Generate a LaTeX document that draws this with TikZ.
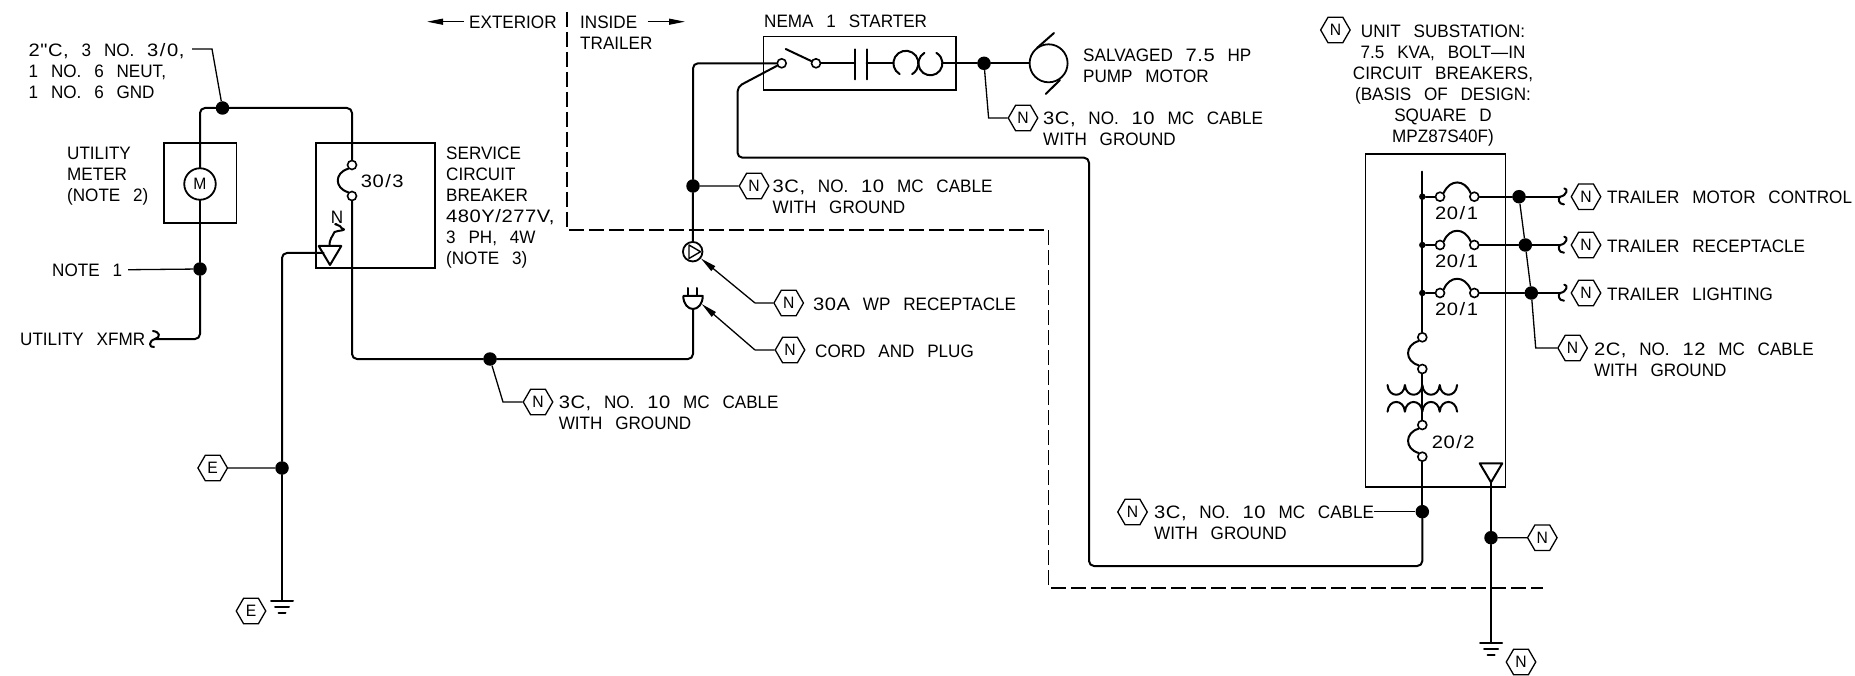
\documentclass[tikz,border=0pt]{standalone}
\usepackage{fontspec}
\setmainfont[FakeStretch=0.95,WordSpace=2.7]{Liberation Sans}
\newfontfamily\numfont[FakeStretch=1.12,LetterSpace=3,WordSpace=2.7]{Liberation Sans}
\usetikzlibrary{shapes.geometric,arrows.meta}
\newcommand{\lblfont}{\fontsize{18}{21}\selectfont}
\newcommand{\hexfont}{\fontsize{16.5}{17}\selectfont}
\newcommand{\slsh}{\kern1.5pt/\kern1.5pt}
\newcommand{\cabletxt}{{\numfont 3C,} NO. {\numfont 10} MC CABLE}
\tikzset{
  wire/.style={line width=2pt,line cap=round,line join=round},
  rwire/.style={wire,rounded corners=5pt},
  thin line/.style={line width=1.3pt},
  boxline/.style={line width=1.6pt},
  dash line/.style={line width=1.2pt,dash pattern=on 15pt off 5pt},
  lbl/.style={anchor=north west,inner sep=0pt,align=left,font=\lblfont,execute at begin node={\rule{0pt}{13pt}}},
  clbl/.style={anchor=north,inner sep=0pt,align=center,font=\lblfont,execute at begin node={\rule{0pt}{13pt}}},
  hex/.style={regular polygon,regular polygon sides=6,draw,line width=1.3pt,inner sep=0pt,minimum size=29.5pt,font=\hexfont},
  jdot/.style={circle,fill=black,draw=none,inner sep=0pt,minimum size=13.5pt},
  sdot/.style={circle,fill=black,draw=none,inner sep=0pt,minimum size=6.5pt},
  term/.style={circle,draw,fill=white,line width=1.6pt,inner sep=0pt,minimum size=9pt},
  circ/.style={circle,draw,line width=1.8pt,inner sep=0pt},
  larrow/.style={thin line,-{Triangle[length=16pt,width=6pt]}},
}
\newcommand{\brkr}[2]{\draw[wire] (#1.south west) .. controls +(-14,4) and +(-14,-4) .. (#2.north west);}
\newcommand{\arcbrk}[2]{\draw[wire] (#1.north east) .. controls +(6,-14) and +(-6,-14) .. (#2.north west);}
\newcommand{\hookbrk}[1]{\draw[wire] (#1) ++(4.3,-8.3) .. controls +(4,0) and +(7,-1) .. (#1) .. controls +(-2,1.5) and +(-6,0) .. ++(4,7.7);}
\newcommand{\hookxf}[1]{\draw[wire] (#1) ++(-2,-8) .. controls +(7,1) and +(6,-2) .. (#1) .. controls +(-7,2) and +(-5,1) .. ++(-1,8);}
\newcommand{\gnd}[1]{\draw[wire] (#1) ++(-11,0) -- ++(22,0) ++(-18,6) -- ++(14,0) ++(-10.5,6) -- ++(7,0);}
\newcommand{\tri}[1]{\draw[wire] (#1) ++(-11.3,-19) -- ++(22.6,0) -- (#1) -- cycle;}
\begin{document}
\begin{tikzpicture}[x=1pt,y=-1pt]
\useasboundingbox (0,0) rectangle (1855,676);
% ---- labels
\node[lbl] (lext) at (469,15.5) {EXTERIOR};
\coordinate (aext1) at (464,21.7); \coordinate (aext2) at (427,21.7);
\draw[larrow] (aext1) -- (aext2);
\node[lbl] (lins) at (580,15.5) {INSIDE\\TRAILER};
\coordinate (ains1) at (647.5,21.7); \coordinate (ains2) at (685,21.7);
\draw[larrow] (ains1) -- (ains2);
% ---- dashed boundary
\coordinate (b1) at (567,12); \coordinate (b2) at (567,230); \coordinate (b3) at (1048.6,230);
\coordinate (b4) at (1048.6,588); \coordinate (b5) at (1543,588);
\draw[dash line] (b1) -- (b2) -- (b3) -- (b4) -- (b5);
% ---- service side
\node[lbl] (lfeed) at (28.5,43) {{\numfont 2"C,} 3 NO. {\numfont 3\slsh 0,}\\1 NO. 6 NEUT,\\1 NO. 6 GND};
\node[jdot] (d1) at (222.5,108) {};
\coordinate (lf1) at (192,49); \coordinate (lf2) at (212,49);
\draw[thin line] (lf1) -- (lf2) -- (d1);
\draw[boxline] (164,143) rectangle (236.5,223);
\node[lbl] (lmeter) at (67,147) {UTILITY\\METER\\(NOTE 2)};
\node[circ,minimum size=31.5pt,font=\hexfont] (M) at (200,184) {M};
\node[jdot] (d2) at (200,269) {};
\node[lbl] (lnote) at (52,263) {NOTE 1};
\draw[thin line,shorten <=6pt] (lnote.east) -- (d2);
\node[lbl] (lxf) at (20,332) {UTILITY XFMR};
\coordinate (xf) at (155,339);
\draw[rwire] (M) |- (d1);
\draw[wire] (M) -- (d2);
\draw[rwire] (d2) |- (xf);
\hookxf{xf}
\draw[boxline] (316,143) rectangle (435,268);
\node[term] (cb1) at (352,165) {};
\node[term] (cb2) at (352,196) {};
\brkr{cb1}{cb2}
\draw[rwire] (d1) -| (cb1);
\node[lbl] (l303) at (360.7,174) {\numfont 30\slsh 3};
\node[lbl] (lserv) at (446,147) {SERVICE\\CIRCUIT\\BREAKER\\{\numfont 480Y/277V,}\\3 PH, 4W\\(NOTE 3)};
\node[inner sep=0pt,font=\lblfont] (nsm) at (337,217) {N};
\coordinate (t1) at (330,265);
\tri{t1}
\coordinate (sq1) at (329.5,246);
\draw[wire] (sq1) .. controls +(0,-8) and +(-2,5) .. ++(5,-14) .. controls +(4,-2) and +(7,3) .. ++(7,-4) .. controls +(0,-3) and +(-5,0) .. ++(-5,-4);
\node[jdot] (d6) at (282,468) {};
\coordinate (g1) at (282,601);
\coordinate (t1l) at (323.5,253);
\draw[rwire] (d6) |- (t1l);
\draw[wire] (d6) -- (g1);
\gnd{g1}
\node[hex] (hE1) at (212.7,468) {E};
\draw[thin line] (hE1) -- (d6);
\node[hex] (hE2) at (251,611) {E};
% ---- cable to plug
\node[jdot] (d3) at (490,359) {};
\coordinate (plugb) at (693,309);
\draw[rwire] (plugb) |- (d3);
\draw[rwire] (d3) -| (cb2);
\node[hex] (h3) at (538,402) {N};
\coordinate (l3) at (503,402);
\draw[thin line] (d3) -- (l3) -- (h3);
\node[lbl] (ltxt3) at (558.6,396) {\cabletxt\\WITH GROUND};
% ---- plug and receptacle
\node[circ,minimum size=19.5pt] (rec) at (692.7,251.7) {};
\coordinate (rt1) at (689,245); \coordinate (rt2) at (689,258.5); \coordinate (rt3) at (700.5,251.7);
\draw[line width=1.4pt,line join=round] (rt1) -- (rt2) -- (rt3) -- cycle;
\coordinate (pl) at (683.3,296); \coordinate (pr) at (702.7,296);
\draw[wire] (pl) -- (pr) .. controls +(0,8) and +(5,0) .. (plugb) .. controls +(-5,0) and +(0,8) .. (pl);
\coordinate (pa) at (688,288); \coordinate (pa2) at (688,296);
\coordinate (pb) at (697,288); \coordinate (pb2) at (697,296);
\draw[wire] (pa) -- (pa2) (pb) -- (pb2);
\node[hex] (h4) at (788.7,303) {N};
\coordinate (l4) at (755,303);
\draw[thin line] (h4) -- (l4);
\draw[larrow] (l4) -- (rec);
\node[lbl] (ltxt4) at (813,297) {{\numfont 30A} WP RECEPTACLE};
\node[hex] (h5) at (790,350) {N};
\coordinate (l5) at (755,350); \coordinate (plugtip) at (701.7,304);
\draw[thin line] (h5) -- (l5);
\draw[larrow] (l5) -- (plugtip);
\node[lbl] (ltxt5) at (815,344) {CORD AND PLUG};
% ---- starter
\node[lbl] (lnema) at (764,14) {NEMA 1 STARTER};
\draw[boxline] (763.5,36.5) rectangle (955.7,90);
\node[term] (st1) at (781.7,63.3) {};
\node[term] (st2) at (816,63.3) {};
\coordinate (bl) at (785.7,49);
\draw[wire] (bl) -- (st2);
\coordinate (cp1a) at (855,49.3); \coordinate (cp1b) at (855,79.3); \coordinate (cp1m) at (855,63.3);
\coordinate (cp2a) at (866.7,49.3); \coordinate (cp2b) at (866.7,79.3); \coordinate (cp2m) at (866.7,63.3);
\draw[wire] (st2) -- (cp1m) (cp1a) -- (cp1b) (cp2a) -- (cp2b);
\coordinate (ol1) at (893.4,63.3); \coordinate (ol2) at (942.4,63.3);
\draw[wire] (cp2m) -- (ol1);
\coordinate (ol3) at (899.65,74.1); \coordinate (ol4) at (924.4,52.9);
\draw[wire] (ol3) arc[start angle=240,end angle=-60,radius=12.5pt];
\draw[wire] (ol4) arc[start angle=120,end angle=420,radius=12pt];
\node[jdot] (d7) at (984,63.3) {};
\draw[wire] (ol2) -- (d7);
\node[circ,minimum size=38pt] (mot) at (1048.6,63.3) {};
\draw[wire] (d7) -- (mot);
\coordinate (mt1) at (1054,33); \coordinate (mt2) at (1037,48);
\coordinate (mt3) at (1045.7,94); \coordinate (mt4) at (1060,80);
\draw[wire] (mt1) -- (mt2) (mt3) -- (mt4);
\node[lbl] (lmot) at (1083,49) {SALVAGED {\numfont 7.5} HP\\PUMP MOTOR};
\node[hex] (h7) at (1023,118) {N};
\coordinate (l7) at (988.6,118);
\draw[thin line] (d7) -- (l7) -- (h7);
\node[lbl] (ltxt7) at (1043,112) {\cabletxt\\WITH GROUND};
% ---- feeder to starter
\node[jdot] (d4) at (693,186) {};
\draw[wire] (rec) -- (d4);
\draw[rwire] (d4) |- (st1);
\node[hex] (h8) at (754,186) {N};
\draw[thin line] (d4) -- (h8);
\node[lbl] (ltxt8) at (772.5,180) {\cabletxt\\WITH GROUND};
\node[jdot] (d5) at (1422.3,511.7) {};
\coordinate (c1) at (737.5,86.7); \coordinate (c2) at (1089,157.7); \coordinate (c3) at (1089,566);
\draw[rwire] (st1) -- (c1) |- (c2) -- (c3) -| (d5);
% ---- substation
\node[hex] (hS) at (1335.4,30) {N};
\node[clbl] (lsub) at (1443,25) {UNIT SUBSTATION:\\7.5 KVA, BOLT---IN\\CIRCUIT BREAKERS,\\(BASIS OF DESIGN:\\SQUARE D\\MPZ87S40F)};
\draw[boxline] (1365.6,154) rectangle (1505.5,486.7);
\coordinate (bus) at (1422.3,171.7);
\node[term] (tr1) at (1422.3,337.3) {};
\draw[wire] (bus) -- (tr1);
\node[term] (tr2) at (1422.3,369) {};
\brkr{tr1}{tr2}
\node[term] (tr3) at (1422.3,425) {};
\node[term] (tr4) at (1422.3,456.7) {};
\brkr{tr3}{tr4}
\draw[wire] (tr2) -- (tr3);
\draw[wire] (tr4) -- (d5);
\coordinate (tx1) at (1387.5,385); \coordinate (tx2) at (1387.5,411.7);
\draw[wire] (tx1) foreach \i in {1,...,4} { .. controls +(1,13) and +(-1,13) .. ++(17.4,0) };
\draw[wire] (tx2) foreach \i in {1,...,4} { .. controls +(1,-13) and +(-1,-13) .. ++(17.4,0) };
\node[lbl] (l202) at (1431.7,435) {\numfont 20\slsh 2};
\coordinate (t2) at (1491,482.3);
\tri{t2}
\node[jdot] (d8) at (1491,537.7) {};
\coordinate (g2) at (1491,642.7);
\draw[wire] (t2) -- (d8) -- (g2);
\gnd{g2}
\node[hex] (h9) at (1542.3,537.7) {N};
\draw[thin line] (d8) -- (h9);
\node[hex] (h10) at (1521,662) {N};
\node[hex] (h11) at (1132.5,512) {N};
\node[lbl] (ltxt11) at (1154,506) {\cabletxt\\WITH GROUND};
\coordinate (l11) at (1373.5,511.7);
\draw[thin line] (l11) -- (d5);
% ---- branch circuits
\foreach \n/\y/\dx/\txt in {a/196.7/1519/TRAILER MOTOR CONTROL,b/245/1525.3/TRAILER RECEPTACLE,c/293/1531.3/TRAILER LIGHTING}{
  \node[sdot] (s\n) at (1422.3,\y) {};
  \node[term] (p\n) at (1440,\y) {};
  \node[term] (q\n) at (1474.3,\y) {};
  \node[jdot] (j\n) at (\dx,\y) {};
  \coordinate (k\n) at (1560,\y);
  \node[hex] (hb\n) at (1586,\y) {N};
  \node[lbl] (lb\n) at (1607,\y-6) {\txt};
  \node[lbl] (lr\n) at (1435,\y+9.5) {\numfont 20\slsh 1};
  \draw[wire] (s\n) -- (p\n);
  \arcbrk{p\n}{q\n}
  \draw[wire] (q\n) -- (j\n) -- (k\n);
  \hookbrk{k\n}
}
\draw[thin line] (ja) -- (jb) -- (jc);
\coordinate (l2c) at (1535.7,348);
\node[hex] (h2c) at (1572.6,348) {N};
\draw[thin line] (jc) -- (l2c) -- (h2c);
\node[lbl] (ltxt2c) at (1593.8,342.5) {{\numfont 2C,} NO. {\numfont 12} MC CABLE\\WITH GROUND};
\end{tikzpicture}
\end{document}
